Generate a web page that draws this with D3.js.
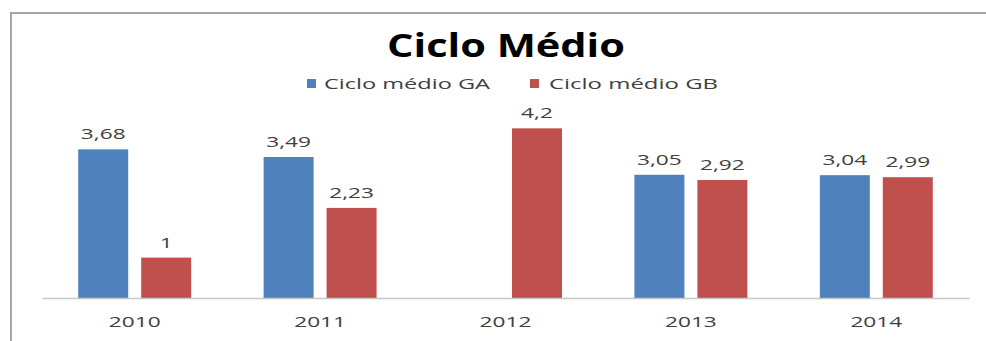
<!DOCTYPE html>
<html>
<head>
<meta charset="utf-8">
<script src="https://cdn.jsdelivr.net/npm/d3@7"></script>
<style>
  html, body { margin: 0; padding: 0; background: #fff; }
  svg { display: block; }
</style>
</head>
<body>
<svg id="chart" width="986" height="341"></svg>
<script>
// Chart data
const years = ["2010", "2011", "2012", "2013", "2014"];
const seriesNames = ["Ciclo médio GA", "Ciclo médio GB"];
const cicloGA = [3.68, 3.49, null, 3.05, 3.04];
const cicloGB = [1, 2.23, 4.2, 2.92, 2.99];
const valueLabelsGA = ["3,68", "3,49", "", "3,05", "3,04"];
const valueLabelsGB = ["1", "2,23", "4,2", "2,92", "2,99"];
const colors = ["#4F81BD", "#C0504D"];
const titleText = "Ciclo Médio";

const svg = d3.select("#chart");
const font = "'Open Sans', 'DejaVu Sans', sans-serif";
const SX = 1.62; // wide text rendering

// Chart frame (runs off the right and bottom edges)
svg.append("rect")
  .attr("x", 11).attr("y", 13)
  .attr("width", 1000).attr("height", 360)
  .attr("fill", "none")
  .attr("stroke", "#A6A6A6")
  .attr("stroke-width", 2);

// Scales
const x0 = d3.scaleBand().domain(years).range([42, 969]).padding(0);
const x1 = d3.scaleBand().domain(seriesNames).range([0, x0.bandwidth()])
  .paddingInner(0.206).paddingOuter(0.575);
const y = d3.scaleLinear().domain([0, 4.5]).range([298, 298 - 4.5 * 40.4]);

const series = [cicloGA, cicloGB];
const labels = [valueLabelsGA, valueLabelsGB];

// Stretched text helper
function wideText(g, x, yPos, txt, size, color, weight) {
  return g.append("text")
    .attr("transform", `translate(${x},${yPos}) scale(${SX},1)`)
    .attr("text-anchor", "middle")
    .attr("font-family", font)
    .attr("font-size", size)
    .attr("font-weight", weight || "normal")
    .attr("fill", color)
    .text(txt);
}

// Bars
const groups = svg.append("g");
series.forEach((vals, si) => {
  vals.forEach((v, i) => {
    if (v == null) return;
    const bx = x0(years[i]) + x1(seriesNames[si]);
    groups.append("rect")
      .attr("x", bx)
      .attr("y", y(v))
      .attr("width", x1.bandwidth())
      .attr("height", y(0) - y(v))
      .attr("fill", colors[si]);
    wideText(groups, bx + x1.bandwidth() / 2, y(v) - 10, labels[si][i], 14, "#404040");
  });
});

// Category axis
const xAxis = svg.append("g").attr("transform", `translate(0,${y(0)})`)
  .call(d3.axisBottom(x0).tickSize(0).tickFormat(""));
xAxis.select(".domain").attr("stroke", "#C8C8C8").attr("stroke-width", 1.5);
years.forEach(yr => {
  wideText(svg, x0(yr) + x0.bandwidth() / 2, 327, yr, 14, "#404040");
});

// Title
svg.append("text")
  .attr("x", 506).attr("y", 57)
  .attr("text-anchor", "middle")
  .attr("font-family", font)
  .attr("font-size", 32)
  .attr("font-weight", "bold")
  .attr("fill", "#000")
  .attr("textLength", 238)
  .attr("lengthAdjust", "spacingAndGlyphs")
  .text(titleText);

// Legend
const legendItems = [
  { sx: 307, tx: 324, tw: 166 },
  { sx: 530, tx: 549, tw: 169 }
];
legendItems.forEach((it, i) => {
  svg.append("rect")
    .attr("x", it.sx).attr("y", 79)
    .attr("width", 9).attr("height", 9)
    .attr("fill", colors[i]);
  svg.append("text")
    .attr("x", it.tx).attr("y", 89)
    .attr("font-family", font)
    .attr("font-size", 14)
    .attr("fill", "#404040")
    .attr("textLength", it.tw)
    .attr("lengthAdjust", "spacingAndGlyphs")
    .text(seriesNames[i]);
});
</script>
</body>
</html>
